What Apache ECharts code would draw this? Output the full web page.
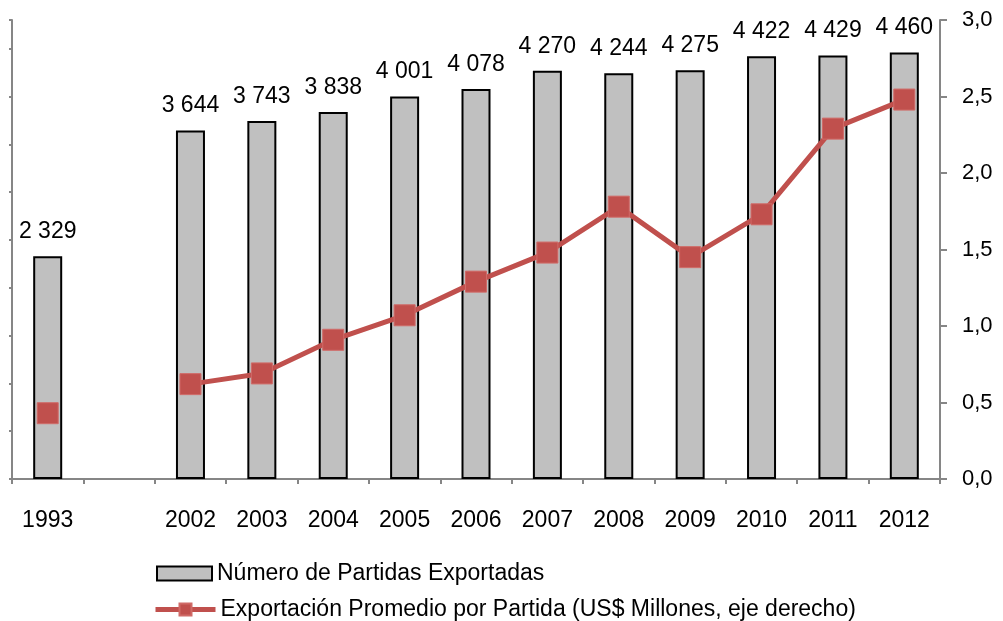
<!DOCTYPE html>
<html>
<head>
<meta charset="utf-8">
<script src="https://cdn.jsdelivr.net/npm/echarts@6/dist/echarts.min.js"></script>
<style>
  html, body { margin: 0; padding: 0; background: #fff; }
  #chart { width: 1003px; height: 621px; }
</style>
</head>
<body>
<div id="chart"></div>
<script>
// Años (la categoría vacía separa 1993 de la serie 2002–2012)
const years = ['1993', '', '2002', '2003', '2004', '2005', '2006', '2007', '2008', '2009', '2010', '2011', '2012'];
// Número de partidas exportadas (eje izquierdo)
const partidas = [2329, null, 3644, 3743, 3838, 4001, 4078, 4270, 4244, 4275, 4422, 4429, 4460];
// Exportación promedio por partida, US$ millones (eje derecho)
const promedio = [0.43, null, 0.62, 0.69, 0.91, 1.07, 1.29, 1.48, 1.78, 1.45, 1.73, 2.29, 2.48];

const NAME_BARS = 'Número de Partidas Exportadas';
const NAME_LINE = 'Exportación Promedio por Partida (US$ Millones, eje derecho)';

const FONT = "'Liberation Sans', Arial, sans-serif";
const AXIS_GREY = '#868686';
const RED = '#c0504d';

const fmtMiles = v => String(v).replace(/\B(?=(\d{3})+(?!\d))/g, ' ');

const legendText = { fontFamily: FONT, fontSize: 23, color: '#000' };

const chart = echarts.init(document.getElementById('chart'), null, { renderer: 'canvas' });
chart.setOption({
  animation: false,
  backgroundColor: '#ffffff',
  textStyle: { fontFamily: FONT, color: '#000' },
  grid: { left: 12, right: 63, top: 20, bottom: 142, containLabel: false },
  legend: [
    {
      left: 156,
      top: 562,
      padding: 0,
      itemWidth: 55,
      itemHeight: 14,
      itemGap: 0,
      textStyle: legendText,
      data: [{ name: NAME_BARS, icon: 'rect' }]
    },
    {
      left: 153,
      top: 598,
      padding: 0,
      itemWidth: 60,
      itemHeight: 15,
      itemGap: 0,
      textStyle: legendText,
      lineStyle: { width: 5 },
      data: [{ name: NAME_LINE }]
    }
  ],
  xAxis: {
    type: 'category',
    data: years,
    boundaryGap: true,
    axisLine: { lineStyle: { color: AXIS_GREY, width: 2 } },
    axisTick: { show: true, alignWithLabel: false, length: 5, lineStyle: { color: AXIS_GREY, width: 2 } },
    axisLabel: { fontFamily: FONT, fontSize: 23, color: '#000', margin: 30, interval: 0 },
    splitLine: { show: false }
  },
  yAxis: [
    {
      type: 'value',
      min: 0,
      max: 4800,
      interval: 500,
      position: 'left',
      axisLine: { show: true, lineStyle: { color: AXIS_GREY, width: 2 } },
      axisTick: { show: true, length: 3, lineStyle: { color: AXIS_GREY, width: 2 } },
      axisLabel: { show: false },
      splitLine: { show: false }
    },
    {
      type: 'value',
      min: 0,
      max: 3,
      interval: 0.5,
      position: 'right',
      axisLine: { show: true, lineStyle: { color: AXIS_GREY, width: 2 } },
      axisTick: { show: true, inside: false, length: 7, lineStyle: { color: AXIS_GREY, width: 2 } },
      axisLabel: {
        fontFamily: FONT, fontSize: 22, color: '#000', margin: 22,
        formatter: v => v.toFixed(1).replace('.', ',')
      },
      splitLine: { show: false }
    }
  ],
  series: [
    {
      name: NAME_BARS,
      type: 'bar',
      yAxisIndex: 0,
      data: partidas,
      barWidth: 29,
      itemStyle: { color: '#c0c0c0', borderColor: '#000', borderWidth: 2 },
      label: {
        show: true,
        position: 'top',
        distance: 13,
        fontFamily: FONT,
        fontSize: 23,
        color: '#000',
        formatter: p => fmtMiles(p.value)
      },
      z: 2
    },
    {
      name: NAME_LINE,
      type: 'line',
      yAxisIndex: 1,
      data: promedio,
      connectNulls: false,
      symbol: 'rect',
      symbolSize: 21,
      showAllSymbol: true,
      lineStyle: { color: RED, width: 5 },
      itemStyle: { color: RED, borderColor: '#d06a67', borderWidth: 1 },
      z: 3
    }
  ]
});
</script>
</body>
</html>
